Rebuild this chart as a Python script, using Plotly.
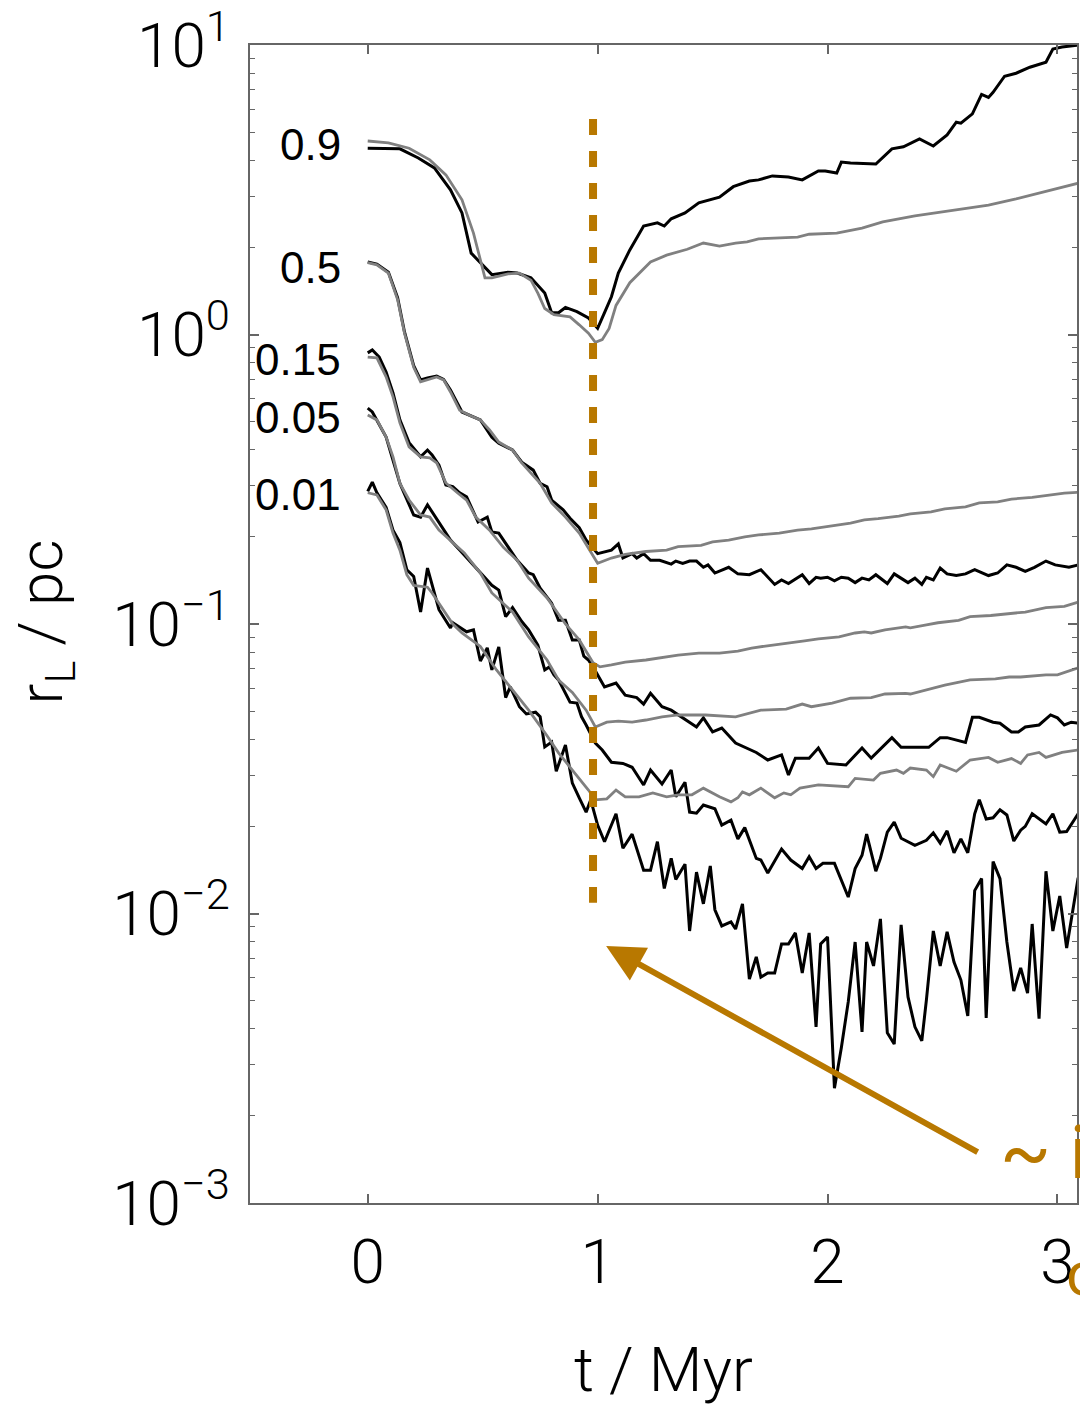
import plotly.graph_objects as go

# Lagrangian radii r_L (pc) against time t (Myr) for five enclosed-mass fractions.
# Each series is a list of (t, r_L) samples; black = cluster run, gray = comparison run.

fractions = ["0.9", "0.5", "0.15", "0.05", "0.01"]

r90_black = [(0.00, 4.40), (0.14, 4.38), (0.22, 4.07), (0.29, 3.76), (0.36, 3.16), (0.41, 2.63),
             (0.45, 1.91), (0.50, 1.74), (0.54, 1.61), (0.61, 1.64), (0.65, 1.63), (0.71, 1.57),
             (0.77, 1.39), (0.80, 1.19), (0.83, 1.19), (0.86, 1.24), (0.91, 1.20), (0.96, 1.14),
             (1.00, 1.05), (1.03, 1.19), (1.06, 1.35), (1.09, 1.63), (1.14, 1.96), (1.20, 2.37),
             (1.26, 2.43), (1.29, 2.37), (1.32, 2.51), (1.38, 2.63), (1.44, 2.85), (1.53, 2.98),
             (1.59, 3.24), (1.66, 3.39), (1.70, 3.42), (1.76, 3.53), (1.83, 3.50), (1.89, 3.42),
             (1.96, 3.67), (1.99, 3.67), (2.04, 3.61), (2.06, 3.94), (2.10, 3.91), (2.21, 3.88),
             (2.28, 4.38), (2.33, 4.45), (2.40, 4.74), (2.46, 4.48), (2.52, 4.89), (2.56, 5.41),
             (2.58, 5.37), (2.63, 5.78), (2.67, 6.75), (2.70, 6.59), (2.72, 6.86), (2.77, 7.80),
             (2.82, 7.99), (2.88, 8.38), (2.95, 8.72), (2.98, 9.69), (3.02, 9.84), (3.09, 10.0)]

r90_gray = [(0.00, 4.66), (0.09, 4.59), (0.18, 4.40), (0.27, 4.01), (0.34, 3.56), (0.41, 2.92),
            (0.46, 2.24), (0.51, 1.57), (0.54, 1.57), (0.61, 1.62), (0.66, 1.63), (0.71, 1.54),
            (0.74, 1.39), (0.77, 1.23), (0.81, 1.17), (0.88, 1.15), (0.92, 1.08), (0.96, 1.01),
            (0.99, 0.94), (1.02, 0.96), (1.05, 1.05), (1.08, 1.26), (1.14, 1.51), (1.23, 1.78),
            (1.30, 1.88), (1.39, 1.97), (1.46, 2.07), (1.53, 2.02), (1.60, 2.07), (1.65, 2.09),
            (1.70, 2.14), (1.76, 2.15), (1.87, 2.17), (1.92, 2.22), (2.04, 2.24), (2.15, 2.33),
            (2.24, 2.45), (2.38, 2.57), (2.47, 2.63), (2.59, 2.71), (2.70, 2.80), (2.82, 2.94),
            (2.93, 3.10), (3.09, 3.33)]

r50_black = [(0.00, 1.78), (0.04, 1.75), (0.09, 1.64), (0.13, 1.34), (0.16, 1.02), (0.20, 0.78),
             (0.23, 0.697), (0.26, 0.708), (0.30, 0.718), (0.33, 0.700), (0.36, 0.643), (0.41, 0.540),
             (0.49, 0.507), (0.54, 0.442), (0.57, 0.421), (0.63, 0.399), (0.67, 0.362), (0.72, 0.340),
             (0.75, 0.306), (0.78, 0.298), (0.80, 0.268), (0.85, 0.248), (0.88, 0.232), (0.92, 0.215),
             (0.95, 0.195), (1.00, 0.175), (1.06, 0.180), (1.09, 0.189), (1.11, 0.169), (1.15, 0.175),
             (1.17, 0.169), (1.20, 0.175), (1.23, 0.166), (1.27, 0.166), (1.32, 0.161), (1.34, 0.165),
             (1.37, 0.162), (1.40, 0.165), (1.43, 0.165), (1.46, 0.157), (1.48, 0.160), (1.51, 0.150),
             (1.57, 0.157), (1.61, 0.149), (1.66, 0.148), (1.71, 0.154), (1.77, 0.137), (1.80, 0.142),
             (1.83, 0.138), (1.89, 0.148), (1.92, 0.138), (1.95, 0.145), (1.97, 0.144), (2.00, 0.145),
             (2.03, 0.141), (2.06, 0.145), (2.09, 0.144), (2.12, 0.139), (2.15, 0.144), (2.18, 0.142),
             (2.21, 0.148), (2.26, 0.138), (2.29, 0.149), (2.35, 0.139), (2.38, 0.144), (2.41, 0.137),
             (2.43, 0.145), (2.46, 0.142), (2.49, 0.156), (2.52, 0.149), (2.56, 0.147), (2.60, 0.149),
             (2.64, 0.154), (2.70, 0.147), (2.74, 0.150), (2.78, 0.160), (2.82, 0.157), (2.86, 0.152),
             (2.90, 0.157), (2.95, 0.165), (2.99, 0.160), (3.05, 0.157), (3.09, 0.160)]

r50_gray = [(0.00, 1.77), (0.04, 1.74), (0.09, 1.63), (0.13, 1.32), (0.16, 1.01), (0.20, 0.77),
            (0.23, 0.686), (0.26, 0.697), (0.30, 0.713), (0.33, 0.697), (0.36, 0.633), (0.40, 0.548),
            (0.44, 0.527), (0.49, 0.507), (0.53, 0.468), (0.57, 0.425), (0.63, 0.399), (0.67, 0.360),
            (0.75, 0.306), (0.80, 0.262), (0.86, 0.234), (0.92, 0.206), (0.96, 0.183), (1.00, 0.162),
            (1.06, 0.169), (1.12, 0.174), (1.21, 0.178), (1.30, 0.180), (1.35, 0.185), (1.45, 0.187),
            (1.50, 0.192), (1.57, 0.195), (1.64, 0.200), (1.70, 0.203), (1.79, 0.206), (1.87, 0.211),
            (1.93, 0.213), (2.02, 0.218), (2.10, 0.223), (2.16, 0.229), (2.22, 0.231), (2.31, 0.236),
            (2.36, 0.240), (2.45, 0.244), (2.51, 0.250), (2.60, 0.254), (2.66, 0.262), (2.74, 0.264),
            (2.80, 0.270), (2.89, 0.274), (2.97, 0.279), (3.03, 0.283), (3.09, 0.285)]

r15_black = [(0.00, 0.864), (0.02, 0.884), (0.05, 0.836), (0.08, 0.742), (0.11, 0.628), (0.14, 0.507),
             (0.18, 0.423), (0.23, 0.378), (0.26, 0.399), (0.28, 0.384), (0.31, 0.354), (0.34, 0.302),
             (0.37, 0.298), (0.40, 0.284), (0.43, 0.275), (0.48, 0.225), (0.52, 0.234), (0.54, 0.208),
             (0.57, 0.206), (0.62, 0.180), (0.65, 0.166), (0.70, 0.150), (0.72, 0.148), (0.75, 0.133),
             (0.80, 0.118), (0.83, 0.103), (0.86, 0.103), (0.89, 0.0881), (0.92, 0.0881), (0.94, 0.0775),
             (0.96, 0.0751), (0.98, 0.0711), (1.03, 0.0606), (1.08, 0.0625), (1.12, 0.0568), (1.17, 0.0557),
             (1.20, 0.0529), (1.23, 0.0576), (1.28, 0.0518), (1.32, 0.0504), (1.35, 0.0485), (1.43, 0.0441),
             (1.46, 0.0474), (1.50, 0.0424), (1.54, 0.0437), (1.60, 0.0388), (1.69, 0.0360), (1.74, 0.0339),
             (1.80, 0.0353), (1.83, 0.0301), (1.86, 0.0344), (1.92, 0.0344), (1.96, 0.0373), (2.00, 0.0330),
             (2.08, 0.0326), (2.15, 0.0373), (2.19, 0.0344), (2.28, 0.0405), (2.32, 0.0375), (2.44, 0.0375),
             (2.49, 0.0405), (2.52, 0.0405), (2.60, 0.0390), (2.63, 0.0476), (2.66, 0.0476), (2.72, 0.0458),
             (2.75, 0.0454), (2.80, 0.0424), (2.83, 0.0424), (2.86, 0.0441), (2.92, 0.0448), (2.97, 0.0485),
             (3.00, 0.0474), (3.03, 0.0448), (3.06, 0.0458), (3.09, 0.0454)]

r15_gray = [(0.00, 0.836), (0.04, 0.830), (0.08, 0.714), (0.11, 0.609), (0.14, 0.495), (0.18, 0.409),
            (0.23, 0.378), (0.27, 0.375), (0.30, 0.360), (0.34, 0.307), (0.39, 0.284), (0.43, 0.268),
            (0.47, 0.234), (0.53, 0.211), (0.59, 0.184), (0.65, 0.166), (0.70, 0.144), (0.78, 0.123),
            (0.86, 0.100), (0.92, 0.0881), (0.98, 0.0735), (1.01, 0.0711), (1.06, 0.0722), (1.12, 0.0739),
            (1.21, 0.0751), (1.30, 0.0769), (1.35, 0.0781), (1.44, 0.0793), (1.53, 0.0793), (1.61, 0.0806),
            (1.67, 0.0826), (1.73, 0.0839), (1.82, 0.0860), (1.90, 0.0874), (1.96, 0.0888), (2.05, 0.0902),
            (2.12, 0.0931), (2.16, 0.0939), (2.19, 0.0931), (2.25, 0.0954), (2.34, 0.0977), (2.36, 0.0970),
            (2.43, 0.0993), (2.48, 0.101), (2.57, 0.103), (2.62, 0.106), (2.71, 0.107), (2.80, 0.109),
            (2.86, 0.110), (2.95, 0.114), (3.03, 0.115), (3.09, 0.119)]

r05_black = [(0.00, 0.557), (0.02, 0.540), (0.08, 0.442), (0.14, 0.306), (0.20, 0.238), (0.23, 0.234),
             (0.26, 0.258), (0.31, 0.225), (0.36, 0.195), (0.40, 0.180), (0.44, 0.166), (0.49, 0.150),
             (0.54, 0.136), (0.57, 0.131), (0.60, 0.106), (0.63, 0.114), (0.67, 0.102), (0.70, 0.0954),
             (0.74, 0.0846), (0.77, 0.0694), (0.79, 0.0711), (0.81, 0.0667), (0.83, 0.0641), (0.88, 0.0537),
             (0.91, 0.0533), (0.93, 0.0478), (0.95, 0.0448), (0.99, 0.0388), (1.02, 0.0367), (1.06, 0.0333),
             (1.11, 0.0330), (1.15, 0.0320), (1.20, 0.0278), (1.23, 0.0313), (1.28, 0.0280), (1.32, 0.0313),
             (1.34, 0.0253), (1.38, 0.0284), (1.40, 0.0224), (1.43, 0.0222), (1.46, 0.0237), (1.51, 0.0230),
             (1.54, 0.0202), (1.58, 0.0210), (1.61, 0.0181), (1.64, 0.0198), (1.69, 0.0155), (1.71, 0.0153),
             (1.74, 0.0138), (1.80, 0.0167), (1.84, 0.0153), (1.89, 0.0143), (1.92, 0.0157), (1.95, 0.0143),
             (1.98, 0.0149), (2.03, 0.0149), (2.09, 0.0114), (2.12, 0.0143), (2.15, 0.0159), (2.17, 0.0188),
             (2.21, 0.0140), (2.23, 0.0155), (2.26, 0.0191), (2.29, 0.0207), (2.32, 0.0182), (2.38, 0.0172),
             (2.43, 0.0179), (2.46, 0.0190), (2.49, 0.0175), (2.52, 0.0193), (2.55, 0.0162), (2.58, 0.0181),
             (2.61, 0.0162), (2.64, 0.0221), (2.66, 0.0247), (2.69, 0.0212), (2.72, 0.0214), (2.75, 0.0228),
             (2.78, 0.0219), (2.81, 0.0178), (2.84, 0.0194), (2.86, 0.0200), (2.89, 0.0221), (2.95, 0.0204),
             (2.98, 0.0221), (3.01, 0.0191), (3.04, 0.0192), (3.09, 0.0221)]

r05_gray = [(0.00, 0.527), (0.04, 0.507), (0.08, 0.442), (0.11, 0.378), (0.14, 0.306), (0.18, 0.268),
            (0.23, 0.238), (0.27, 0.234), (0.31, 0.211), (0.36, 0.195), (0.42, 0.176), (0.49, 0.150),
            (0.54, 0.128), (0.63, 0.110), (0.70, 0.0902), (0.78, 0.0751), (0.83, 0.0641), (0.89, 0.0580),
            (0.95, 0.0504), (0.99, 0.0441), (1.04, 0.0458), (1.09, 0.0462), (1.15, 0.0458), (1.21, 0.0466),
            (1.28, 0.0478), (1.35, 0.0485), (1.47, 0.0485), (1.60, 0.0478), (1.71, 0.0504), (1.82, 0.0508),
            (1.89, 0.0529), (1.93, 0.0518), (2.02, 0.0533), (2.10, 0.0554), (2.19, 0.0557), (2.25, 0.0573),
            (2.34, 0.0576), (2.36, 0.0573), (2.44, 0.0596), (2.51, 0.0615), (2.62, 0.0641), (2.73, 0.0646),
            (2.79, 0.0656), (2.84, 0.0656), (2.95, 0.0667), (3.00, 0.0667), (3.09, 0.0705)]

r01_black = [(0.00, 0.287), (0.02, 0.309), (0.04, 0.284), (0.08, 0.253), (0.11, 0.211), (0.14, 0.191),
             (0.17, 0.154), (0.20, 0.146), (0.23, 0.110), (0.26, 0.156), (0.31, 0.112), (0.36, 0.0969),
             (0.37, 0.101), (0.43, 0.0940), (0.46, 0.0954), (0.49, 0.0745), (0.52, 0.0827), (0.54, 0.0694),
             (0.57, 0.0833), (0.60, 0.0557), (0.62, 0.0606), (0.66, 0.0518), (0.69, 0.0489), (0.73, 0.0496),
             (0.75, 0.0478), (0.77, 0.0376), (0.80, 0.0391), (0.82, 0.0310), (0.86, 0.0382), (0.89, 0.0282),
             (0.92, 0.0251), (0.95, 0.0224), (0.97, 0.0247), (1.00, 0.0202), (1.03, 0.0177), (1.08, 0.0221),
             (1.11, 0.0168), (1.15, 0.0188), (1.20, 0.0141), (1.23, 0.0141), (1.26, 0.0177), (1.29, 0.0122),
             (1.32, 0.0155), (1.34, 0.0131), (1.38, 0.0148), (1.40, 0.00870), (1.43, 0.0139), (1.46, 0.0108),
             (1.49, 0.0146), (1.51, 0.0103), (1.54, 0.00906), (1.58, 0.00935), (1.60, 0.00884), (1.63, 0.0108),
             (1.66, 0.00594), (1.69, 0.00708), (1.71, 0.00603), (1.74, 0.00623), (1.77, 0.00623), (1.80, 0.00785),
             (1.83, 0.00785), (1.86, 0.00857), (1.89, 0.00623), (1.92, 0.00857), (1.95, 0.00406), (1.97, 0.00785),
             (2.00, 0.00830), (2.03, 0.00249), (2.06, 0.00344), (2.09, 0.00495), (2.12, 0.00797), (2.15, 0.00390),
             (2.17, 0.00797), (2.20, 0.00659), (2.23, 0.00958), (2.26, 0.00387), (2.29, 0.00354), (2.32, 0.00913),
             (2.35, 0.00515), (2.38, 0.00406), (2.41, 0.00363), (2.43, 0.00503), (2.46, 0.00870), (2.49, 0.00659),
             (2.52, 0.00864), (2.55, 0.00680), (2.58, 0.00589), (2.61, 0.00443), (2.64, 0.0120), (2.67, 0.0132),
             (2.69, 0.00436), (2.72, 0.0151), (2.75, 0.0132), (2.78, 0.00797), (2.81, 0.00540), (2.84, 0.00649),
             (2.87, 0.00531), (2.89, 0.00920), (2.92, 0.00433), (2.95, 0.0140), (2.98, 0.00870), (3.01, 0.0115),
             (3.04, 0.00760), (3.09, 0.0133)]

r01_gray = [(0.00, 0.284), (0.04, 0.279), (0.08, 0.248), (0.11, 0.206), (0.14, 0.180), (0.17, 0.148),
            (0.20, 0.136), (0.26, 0.134), (0.28, 0.128), (0.33, 0.112), (0.37, 0.100), (0.41, 0.0932),
            (0.49, 0.0837), (0.56, 0.0694), (0.63, 0.0591), (0.70, 0.0504), (0.78, 0.0411), (0.83, 0.0359),
            (0.89, 0.0313), (0.96, 0.0267), (0.99, 0.0247), (1.04, 0.0249), (1.08, 0.0267), (1.12, 0.0253),
            (1.18, 0.0253), (1.24, 0.0261), (1.30, 0.0253), (1.35, 0.0257), (1.41, 0.0257), (1.46, 0.0271),
            (1.53, 0.0253), (1.58, 0.0243), (1.61, 0.0251), (1.63, 0.0263), (1.66, 0.0257), (1.71, 0.0271),
            (1.77, 0.0251), (1.81, 0.0261), (1.84, 0.0257), (1.88, 0.0271), (1.96, 0.0278), (2.09, 0.0274),
            (2.12, 0.0293), (2.20, 0.0289), (2.23, 0.0305), (2.30, 0.0313), (2.33, 0.0305), (2.36, 0.0318),
            (2.43, 0.0313), (2.46, 0.0297), (2.49, 0.0326), (2.56, 0.0310), (2.62, 0.0339), (2.70, 0.0346),
            (2.74, 0.0333), (2.80, 0.0343), (2.84, 0.0330), (2.87, 0.0353), (2.92, 0.0360), (2.95, 0.0346),
            (3.02, 0.0360), (3.09, 0.0367)]

# Time of the marked event and the extent of its dashed marker
t_event = [0.98, 0.98]
r_event = [5.55, 0.0109]

# Axis ticks
x_ticks = [0, 1, 2, 3]
y_ticks = [0.001, 0.01, 0.1, 1, 10]
y_ticktext = ["10<sup>\u22123</sup>", "10<sup>\u22122</sup>", "10<sup>\u22121</sup>",
              "10<sup>0</sup>", "10<sup>1</sup>"]

ORANGE = "#B87800"
GRAY = "#808080"
FRAME = "#666666"
TICK_FONT = dict(family="Roboto", size=62, color="black", weight=300)

black_runs = [r90_black, r50_black, r15_black, r05_black, r01_black]
gray_runs = [r90_gray, r50_gray, r15_gray, r05_gray, r01_gray]

fig = go.Figure()

for name, series in zip(fractions, black_runs):
    t, r = zip(*series)
    fig.add_trace(go.Scatter(x=t, y=r, mode="lines", name=name,
                             line=dict(color="black", width=3), showlegend=False))
for name, series in zip(fractions, gray_runs):
    t, r = zip(*series)
    fig.add_trace(go.Scatter(x=t, y=r, mode="lines", name=name,
                             line=dict(color=GRAY, width=2.8), showlegend=False))

fig.add_trace(go.Scatter(x=t_event, y=r_event, mode="lines", showlegend=False,
                         line=dict(color=ORANGE, width=8, dash="16px,16px")))

# Mass-fraction labels at the left end of each pair of curves
label_log_r = [0.655, 0.230, -0.088, -0.288, -0.554]
annotations = []
for text, yl in zip(fractions, label_log_r):
    annotations.append(dict(x=-0.108, y=yl, xref="x", yref="y", text=text, showarrow=False,
                            xanchor="right", yanchor="middle",
                            font=dict(family="Liberation Sans", size=44, color="black")))

# Arrow pointing at the marked event
annotations.append(dict(x=1.037, y=-2.112, xref="x", yref="y", text="", showarrow=True,
                        ax=373, ay=207, axref="pixel", ayref="pixel",
                        arrowhead=2, arrowsize=1.25, arrowwidth=6, arrowcolor=ORANGE))
annotations.append(dict(x=0.9047, y=0.0440, xref="paper", yref="paper", text="~ i",
                        showarrow=False, xanchor="left", yanchor="middle",
                        font=dict(family="Roboto", size=75, color=ORANGE)))
annotations.append(dict(x=0.9843, y=-0.0613, xref="paper", yref="paper", text="c",
                        showarrow=False, xanchor="left", yanchor="middle",
                        font=dict(family="Roboto", size=62, color=ORANGE)))

# Axis titles
annotations.append(dict(x=0.5006, y=-0.1442, xref="paper", yref="paper", text="t / Myr",
                        showarrow=False, xanchor="center", yanchor="middle", font=TICK_FONT))
annotations.append(dict(x=-0.2473, y=0.5017, xref="paper", yref="paper",
                        text="r<sub>L</sub> / pc", textangle=-90,
                        showarrow=False, xanchor="center", yanchor="middle", font=TICK_FONT))

fig.update_layout(
    width=1080, height=1404,
    margin=dict(l=250, r=1, t=45, b=201),
    paper_bgcolor="white", plot_bgcolor="white",
    annotations=annotations,
    xaxis=dict(range=[-0.512, 3.085], tickvals=x_ticks, ticks="inside", ticklen=9,
               tickwidth=1.5, tickcolor=FRAME, showline=True, linecolor=FRAME, linewidth=1.5,
               mirror="ticks", showgrid=False, zeroline=False, tickfont=TICK_FONT,
               ticklabelstandoff=4),
    yaxis=dict(type="log", range=[-3, 1], tickvals=y_ticks, ticktext=y_ticktext, ticks="inside",
               ticklen=9, tickwidth=1.5, tickcolor=FRAME, showline=True, linecolor=FRAME,
               linewidth=1.5, mirror="ticks", showgrid=False, zeroline=False, tickfont=TICK_FONT,
               ticklabelstandoff=6,
               minor=dict(ticks="inside", ticklen=5, tickwidth=1, tickcolor=FRAME, dtick="D1",
                          showgrid=False)),
)

fig.write_html("out.html")
